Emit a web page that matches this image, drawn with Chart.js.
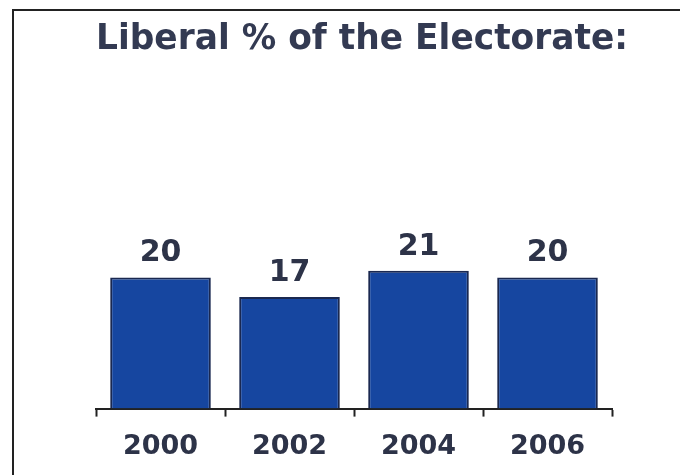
<!DOCTYPE html>
<html>
<head>
<meta charset="utf-8">
<script src="https://cdn.jsdelivr.net/npm/chart.js@4.4.1/dist/chart.umd.min.js"></script>
<style>
  html, body { margin: 0; padding: 0; background: #fff; }
  #wrap { position: relative; width: 680px; height: 475px; overflow: hidden; }
  #frame {
    position: absolute; left: 12px; top: 9px; width: 700px; height: 500px;
    border-left: 2px solid #222; border-top: 2px solid #222; box-sizing: border-box;
  }
  canvas { position: absolute; left: 0; top: 0; }
</style>
</head>
<body>
<div id="wrap">
  <div id="frame"></div>
  <canvas id="chart" width="680" height="477"></canvas>
</div>
<script>
// datos del gráfico
const years = ["2000", "2002", "2004", "2006"];
const liberalPct = [20, 17, 21, 20];

const textColor = "#2d3348";

// etiquetas de valor encima de cada barra
const valueLabels = {
  id: "valueLabels",
  afterDatasetsDraw(chart) {
    const ctx = chart.ctx;
    const meta = chart.getDatasetMeta(0);
    ctx.save();
    ctx.font = "bold 30px 'DejaVu Sans'";
    ctx.fillStyle = textColor;
    ctx.textAlign = "center";
    ctx.textBaseline = "alphabetic";
    meta.data.forEach((bar, i) => {
      ctx.fillText(String(liberalPct[i]), bar.x, bar.y - 16);
    });
    ctx.restore();
  }
};

new Chart(document.getElementById("chart"), {
  type: "bar",
  data: {
    labels: years,
    datasets: [{
      data: liberalPct,
      backgroundColor: "#1646a0",
      borderColor: "#1a2850",
      borderWidth: 2,
      barPercentage: 0.78,
      categoryPercentage: 1
    }]
  },
  options: {
    responsive: false,
    animation: false,
    layout: { padding: { left: 96, right: 52, top: 0, bottom: 0 } },
    plugins: {
      legend: { display: false },
      tooltip: { enabled: false },
      title: {
        display: true,
        text: "Liberal % of the Electorate:",
        color: "#333a52",
        font: { family: "'DejaVu Sans'", size: 35, weight: "bold" },
        padding: { top: 19, bottom: 118 }
      }
    },
    scales: {
      x: {
        offset: true,
        grid: {
          offset: true,
          drawOnChartArea: false,
          drawTicks: true,
          tickLength: 8,
          tickWidth: 2,
          tickColor: "#222"
        },
        border: { display: true, color: "#222", width: 2 },
        ticks: {
          color: textColor,
          padding: 14,
          font: { family: "'DejaVu Sans'", size: 27, weight: "bold" }
        }
      },
      y: {
        // eje invisible a la derecha, solo ocupa espacio
        position: "right",
        min: 0,
        max: 35,
        grid: { display: false },
        border: { display: false },
        ticks: { display: false },
        afterFit(scale) { scale.width = 16; }
      }
    }
  },
  plugins: [valueLabels]
});
</script>
</body>
</html>
